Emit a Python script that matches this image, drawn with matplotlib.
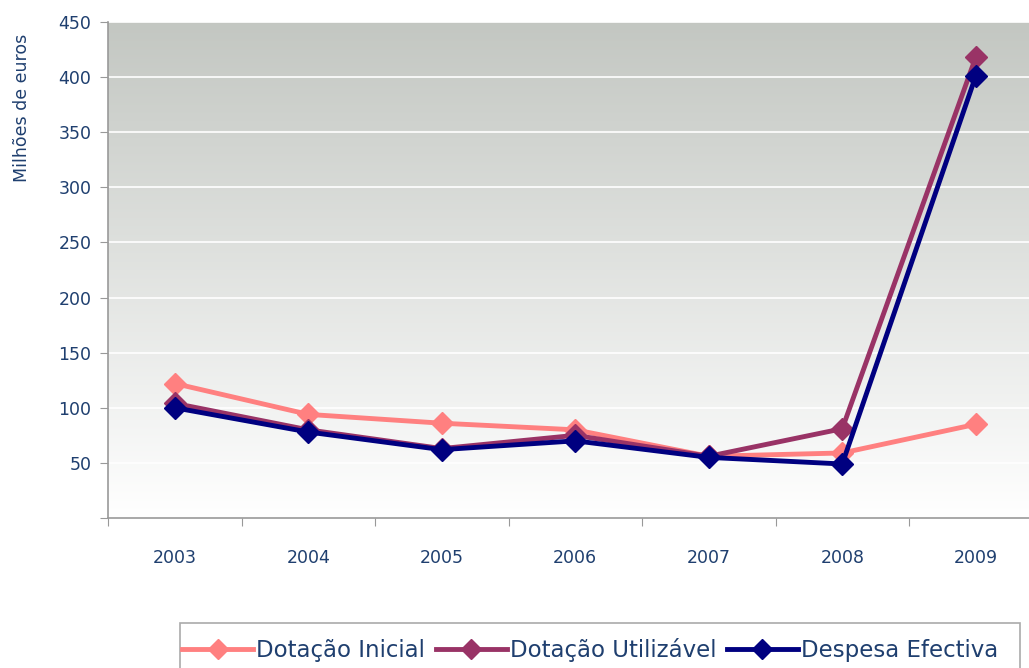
import numpy as np
import matplotlib
matplotlib.use('Agg')
import matplotlib.pyplot as plt
from matplotlib.patches import Rectangle

years = ['2003', '2004', '2005', '2006', '2007', '2008', '2009']
dotacao_inicial = [122, 94, 86, 80, 56, 59, 85]
dotacao_utilizavel = [104, 80, 63, 75, 56, 81, 418]
despesa_efectiva = [100, 78, 62, 70, 55, 49, 401]

txt = '#1F3F6F'
plt.rcParams['font.family'] = ['DejaVu Sans']

fig = plt.figure(figsize=(10.29, 6.68), dpi=100)
ax = fig.add_axes([108 / 1029, 1 - 518 / 668, 934.5 / 1029, 496 / 668])

# gradient background
grad = np.linspace(0, 1, 256).reshape(-1, 1)
top = np.array([0.765, 0.78, 0.76])
bot = np.array([1.0, 1.0, 1.0])
img = top * (1 - grad)[..., None] + bot * grad[..., None]
img = img.reshape(256, 1, 3)
ax.imshow(img, extent=[0, 1, 0, 1], transform=ax.transAxes, aspect='auto', zorder=0)

x = np.arange(len(years))
series = [
    ('Dotação Inicial', dotacao_inicial, '#FF8080'),
    ('Dotação Utilizável', dotacao_utilizavel, '#993366'),
    ('Despesa Efectiva', despesa_efectiva, '#000080'),
]
handles = []
for name, vals, col in series:
    h, = ax.plot(x, vals, color=col, lw=3.5, marker='D', ms=11, mec=col, mfc=col,
                 zorder=3, label=name)
    handles.append(h)

ax.set_xlim(-0.5, 6.5)
ax.set_ylim(0, 450)
ax.set_yticks(range(0, 451, 50))
ax.set_yticklabels([''] + [str(v) for v in range(50, 451, 50)])
ax.yaxis.grid(True, color='white', lw=1.2, zorder=1)
ax.set_axisbelow(True)
ax.set_xticks(np.arange(-0.5, 7, 1))
ax.set_xticklabels([])
ax.set_xticks(x, minor=True)
ax.set_xticklabels(years, minor=True)
ax.tick_params(axis='x', which='minor', length=0, pad=22, labelsize=12.5, labelcolor=txt)
ax.tick_params(axis='x', which='major', length=6, color='#999999', direction='out')
ax.tick_params(axis='y', length=6, color='#999999', labelsize=12.5, labelcolor=txt, pad=6)
for s in ['top', 'right']:
    ax.spines[s].set_visible(False)
for s in ['left', 'bottom']:
    ax.spines[s].set_color('#999999')
    ax.spines[s].set_linewidth(1.2)

fig.text(22 / 1029, 1 - 108 / 668, 'Milhões de euros', rotation=90, ha='center', va='center',
         color=txt, fontsize=12.5)

# legend box, cut off by the bottom edge like in the original
fig.patches.append(Rectangle((180 / 1029, -0.05), 840 / 1029, 0.05 + 1 - 623 / 668,
                             transform=fig.transFigure, fill=False, ec='#AAAAAA', lw=1.2))
leg = fig.legend(handles=handles, loc='center left', bbox_to_anchor=(182 / 1029, 1 - 650 / 668),
                 ncol=3, frameon=False, prop={'size': 16.5},
                 handlelength=3.1, columnspacing=0.45, handletextpad=0.15, borderpad=0,
                 borderaxespad=0, markerscale=0.9)
for t in leg.get_texts():
    t.set_color(txt)

fig.savefig('out.png', dpi=100)
